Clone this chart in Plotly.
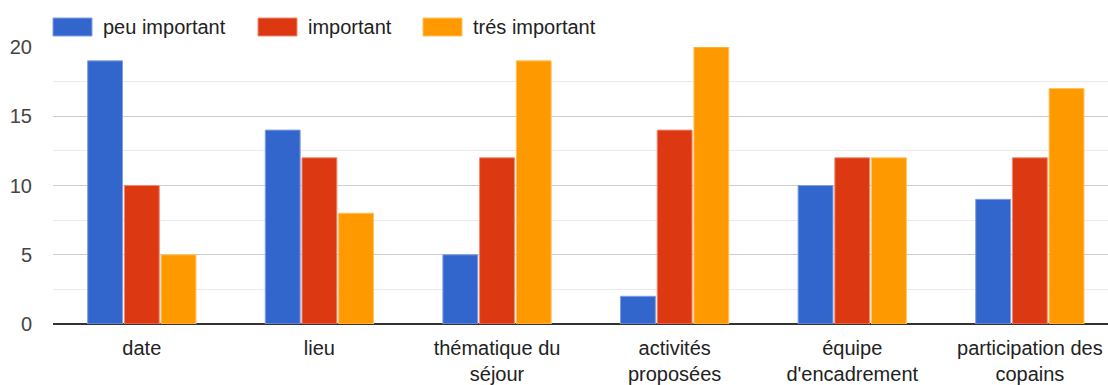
import plotly.graph_objects as go

# Survey: importance of each criterion when choosing a holiday stay
categories = ["date", "lieu", "thématique du séjour", "activités proposées",
              "équipe d'encadrement", "participation des copains"]
tick_labels = ["date", "lieu", "thématique du<br>séjour", "activités<br>proposées",
               "équipe<br>d'encadrement", "participation des<br>copains"]

series_names = ["peu important", "important", "trés important"]
peu_important = [19, 14, 5, 2, 10, 9]
important = [10, 12, 12, 14, 12, 12]
tres_important = [5, 8, 19, 20, 12, 17]

colors = ["#3366cc", "#dc3912", "#ff9900"]
edge_colors = ["#7f9fe0", "#ef8a70", "#ffc266"]

FONT = "Liberation Sans, Arial, sans-serif"
W, H = 1108, 385
ML, MR, MT, MB = 53, 0, 47, 61
PW, PH = W - ML - MR, H - MT - MB


def px_x(px):
    return (px - ML) / PW


def px_y(py):
    return (H - MB - py) / PH


fig = go.Figure()
for name, vals, col, edge in zip(series_names,
                                 [peu_important, important, tres_important],
                                 colors, edge_colors):
    fig.add_trace(go.Bar(
        x=categories, y=vals, name=name,
        marker=dict(color=col, line=dict(color=edge, width=1)),
        showlegend=False,
    ))

# Legend row drawn as swatches + labels along the top
swatch_left = [53, 258, 423]
for x0, name, col, edge in zip(swatch_left, series_names, colors, edge_colors):
    fig.add_shape(type="rect", xref="paper", yref="paper",
                  x0=px_x(x0), x1=px_x(x0 + 39),
                  y0=px_y(36), y1=px_y(18),
                  fillcolor=col, line=dict(color=edge, width=1))
    fig.add_annotation(xref="paper", yref="paper",
                       x=px_x(x0 + 48), y=px_y(27),
                       text=name, showarrow=False, xanchor="left", yanchor="middle",
                       font=dict(family=FONT, size=20, color="#222"))

fig.update_layout(
    width=W, height=H,
    margin=dict(l=ML, r=MR, t=MT, b=MB),
    paper_bgcolor="white", plot_bgcolor="white",
    barmode="group", bargap=0.38, bargroupgap=0.05,
    font=dict(family=FONT, size=20, color="#444"),
)
fig.update_xaxes(
    type="category", range=[-0.5, 5.44],
    tickvals=categories, ticktext=tick_labels,
    showgrid=False, showline=False, ticks="",
    ticklabelstandoff=10,
    tickfont=dict(family=FONT, size=20, color="#222"),
)
fig.update_yaxes(
    range=[0, 20], dtick=5, showline=False, ticks="",
    gridcolor="#cccccc", gridwidth=1,
    minor=dict(dtick=2.5, showgrid=True, gridcolor="#ebebeb"),
    zeroline=True, zerolinecolor="#333333", zerolinewidth=2,
    ticklabelstandoff=20,
    tickfont=dict(family=FONT, size=20, color="#444"),
)

fig.write_html("out.html")
